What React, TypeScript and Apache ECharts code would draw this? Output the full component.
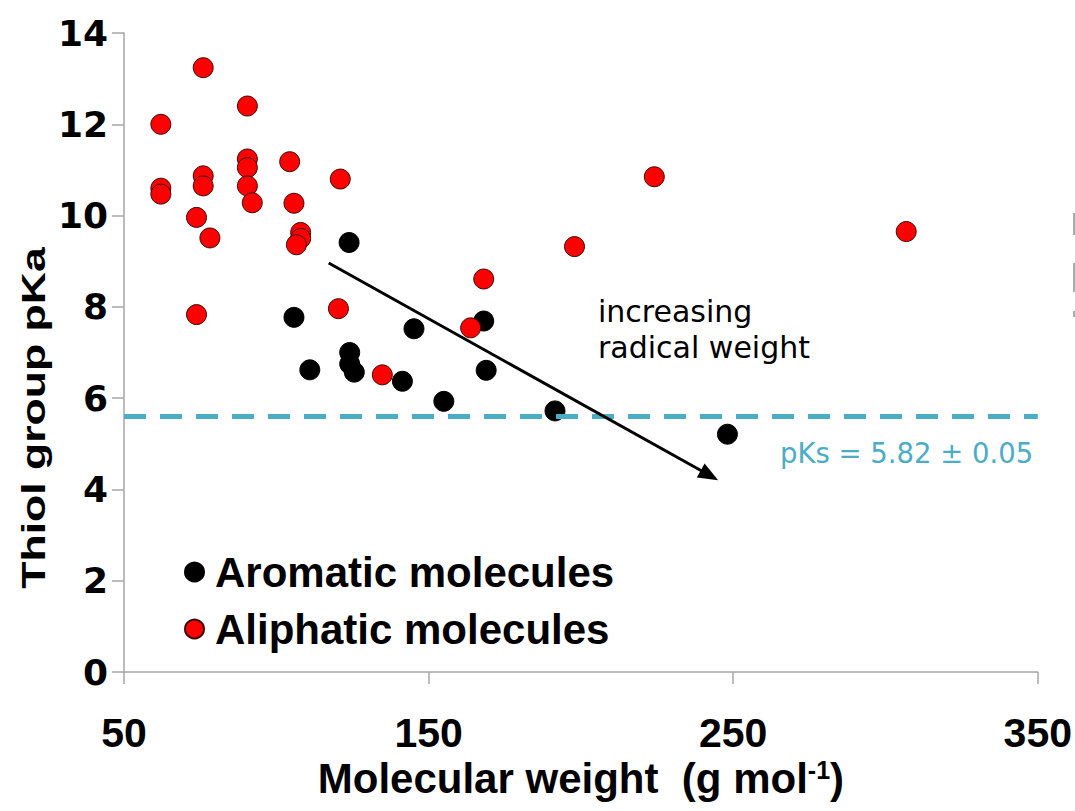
import React, { useEffect, useRef } from "react";
import * as echarts from "echarts";

// ---- data ----
const aromaticMW = [123.9, 105.8, 124.1, 124.1, 125.6, 111.0, 145.2, 168.1, 141.4, 168.9, 155.0, 191.5, 248.1];
const aromaticPKa = [9.41, 7.77, 7.0, 6.75, 6.57, 6.62, 7.52, 7.69, 6.37, 6.61, 5.93, 5.72, 5.21];

const aliphaticMW = [
  76.0, 90.5, 62.1, 90.5, 90.5, 104.4, 76.0, 76.0, 62.1, 62.1, 90.5, 92.1, 105.8, 121.0,
  73.8, 78.2, 108.0, 108.0, 106.6, 73.8, 120.4, 168.1, 163.8, 134.8, 197.9, 224.1, 306.8,
];
const aliphaticPKa = [
  13.24, 12.4, 12.0, 11.24, 11.05, 11.18, 10.87, 10.65, 10.6, 10.47, 10.65, 10.28, 10.27, 10.8,
  9.96, 9.51, 9.63, 9.5, 9.36, 7.83, 7.96, 8.61, 7.54, 6.51, 9.32, 10.85, 9.65,
];

const seriesNames = ["Aromatic molecules", "Aliphatic molecules"];
const pKsLine = 5.61; // drawn position of the pKs line
const arrowStart = [117.2, 8.96];
const arrowEnd = [242.2, 4.31];
const xTicks = { min: 50, max: 350, interval: 100 };
const yTicks = { min: 0, max: 14, interval: 2 };

const zip = (xs: number[], ys: number[]) => xs.map((x, i) => [x, ys[i]]);

export default function App() {
  const ref = useRef<HTMLDivElement>(null);

  useEffect(() => {
    document.body.style.margin = "0";
    const chart = echarts.init(ref.current!, null, { renderer: "svg" });
    const axisGray = "#A6A6A6";
    chart.setOption({
      animation: false,
      backgroundColor: "#ffffff",
      grid: { left: 124, right: 36, top: 33, bottom: 139, containLabel: false },
      legend: {
        orient: "vertical",
        left: 179,
        top: 546,
        itemWidth: 19,
        itemHeight: 19,
        itemGap: 15,
        data: seriesNames,
        textStyle: {
          fontFamily: "Liberation Sans",
          fontWeight: "bold",
          fontSize: 42,
          color: "#000",
          padding: [0, 0, 0, 6],
        },
      },
      xAxis: {
        type: "value",
        min: xTicks.min,
        max: xTicks.max,
        interval: xTicks.interval,
        name: "Molecular weight  (g mol{sup|-1})",
        nameLocation: "middle",
        nameGap: 80,
        nameTextStyle: {
          fontFamily: "Liberation Sans",
          fontWeight: "bold",
          fontSize: 42,
          color: "#000",
          rich: {
            sup: {
              fontFamily: "Liberation Sans",
              fontWeight: "bold",
              fontSize: 25,
              color: "#000",
              verticalAlign: "top",
            },
          },
        },
        axisLine: { show: true, lineStyle: { color: axisGray, width: 1.5 } },
        axisTick: { show: true, inside: false, length: 12, lineStyle: { color: axisGray, width: 1.5 } },
        axisLabel: {
          margin: 40,
          fontFamily: "Liberation Sans",
          fontWeight: "bold",
          fontSize: 41,
          color: "#000",
        },
        splitLine: { show: false },
      },
      yAxis: {
        type: "value",
        min: yTicks.min,
        max: yTicks.max,
        interval: yTicks.interval,
        axisLine: { show: true, lineStyle: { color: axisGray, width: 1.5 } },
        axisTick: { show: true, inside: false, length: 12, lineStyle: { color: axisGray, width: 1.5 } },
        axisLabel: {
          margin: 16,
          fontFamily: "DejaVu Sans",
          fontWeight: "bold",
          fontSize: 36,
          color: "#000",
        },
        splitLine: { show: false },
      },
      series: [
        {
          name: seriesNames[0],
          type: "scatter",
          symbol: "circle",
          symbolSize: 20,
          itemStyle: { color: "#000000", borderColor: "#000000", borderWidth: 1, opacity: 1 },
          data: zip(aromaticMW, aromaticPKa),
          markLine: {
            silent: true,
            symbol: "none",
            label: { show: false },
            lineStyle: { color: "#4BACC6", width: 5, type: [22, 14] },
            data: [{ yAxis: pKsLine }],
          },
          z: 3,
        },
        {
          name: seriesNames[1],
          type: "scatter",
          symbol: "circle",
          symbolSize: 20,
          itemStyle: { color: "#FF0000", borderColor: "#3A0A0A", borderWidth: 1, opacity: 1 },
          data: zip(aliphaticMW, aliphaticPKa),
          markLine: {
            silent: true,
            symbol: ["none", "triangle"],
            symbolSize: [16, 20],
            label: { show: false },
            lineStyle: { color: "#000000", width: 3, type: "solid" },
            data: [[{ coord: arrowStart }, { coord: arrowEnd }]],
          },
          z: 4,
        },
      ],
      graphic: [
        {
          type: "text",
          x: 34,
          y: 418,
          rotation: Math.PI / 2,
          scaleX: 1.35,
          style: {
            text: "Thiol group pKa",
            fontFamily: "Liberation Sans",
            fontWeight: "bold",
            fontSize: 33,
            fill: "#000",
            align: "center",
            verticalAlign: "middle",
          },
        },
        {
          type: "text",
          x: 598,
          y: 311.5,
          style: {
            text: "increasing",
            fontFamily: "DejaVu Sans",
            fontSize: 30,
            fill: "#000",
            align: "left",
            verticalAlign: "middle",
          },
        },
        {
          type: "text",
          x: 598,
          y: 347.5,
          style: {
            text: "radical weight",
            fontFamily: "DejaVu Sans",
            fontSize: 30,
            fill: "#000",
            align: "left",
            verticalAlign: "middle",
          },
        },
        {
          type: "text",
          x: 780,
          y: 453,
          style: {
            text: "pKs = 5.82 ± 0.05",
            fontFamily: "DejaVu Sans",
            fontSize: 27.5,
            fill: "#4BACC6",
            align: "left",
            verticalAlign: "middle",
          },
        },
        { type: "rect", shape: { x: 1073, y: 213, width: 2, height: 22 }, style: { fill: "#AAAAAA" } },
        { type: "rect", shape: { x: 1073, y: 263, width: 2, height: 29 }, style: { fill: "#AAAAAA" } },
        { type: "rect", shape: { x: 1073, y: 311, width: 2, height: 6 }, style: { fill: "#AAAAAA" } },
      ],
    });
    return () => chart.dispose();
  }, []);

  return <div ref={ref} style={{ width: 1075, height: 811 }} />;
}
